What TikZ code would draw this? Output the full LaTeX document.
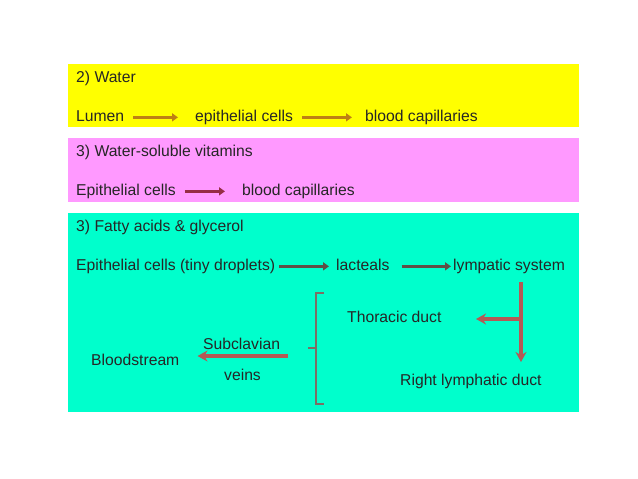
\documentclass[tikz,border=0pt]{standalone}
\usepackage{fontspec}
\setmainfont{Liberation Sans}
\usetikzlibrary{arrows.meta}
\definecolor{wateryellow}{RGB}{255,255,0}
\definecolor{vitpink}{RGB}{255,153,255}
\definecolor{fatcyan}{RGB}{0,255,204}
\definecolor{wateredge}{RGB}{190,128,20}
\definecolor{vitedge}{RGB}{150,45,70}
\definecolor{fatedge}{RGB}{95,80,70}
\definecolor{ductedge}{RGB}{180,90,85}
\definecolor{bracketgray}{RGB}{125,110,100}

\begin{document}
\begin{tikzpicture}[x=1pt, y=-1pt]

\tikzset{ txt/.style={anchor=base west, inner sep=0pt, text=black!85,
    font={\fontsize{15.7pt}{18pt}\selectfont}},
  flow/.style={line width=3.2pt, -{Triangle[length=6pt,width=8pt]}},
  duct/.style={line width=3.1pt, color=ductedge, -{Stealth[length=10pt,width=11pt]}}
}

\useasboundingbox (0,0) rectangle (638,479);

% Boxes
\fill[wateryellow] (68,64) rectangle (579,127);
\fill[vitpink] (68,138) rectangle (579,202);
\fill[fatcyan] (68,213) rectangle (579,412);

% Water
\node[txt] (water) at (76,82) {2) Water};
\node[txt] (lumen) at (76,121) {Lumen};
\node[txt] (epiw) at (195,121) {epithelial cells};
\node[txt] (bloodw) at (365,121) {blood capillaries};
\draw[flow, wateredge] ([xshift=9pt, yshift=1pt]lumen.mid east) -- ([xshift=-17pt, yshift=1pt]epiw.mid west);
\draw[flow, wateredge] ([xshift=9pt, yshift=1pt]epiw.mid east) -- ([xshift=-13pt, yshift=1pt]bloodw.mid west);

% Water-soluble vitamins
\node[txt] (vit) at (76,156) {3) Water-soluble vitamins};
\node[txt] (epiv) at (76,195) {Epithelial cells};
\node[txt] (bloodv) at (242,195) {blood capillaries};
\draw[flow, vitedge] ([xshift=9pt, yshift=1pt]epiv.mid east) -- ([xshift=-17pt, yshift=1pt]bloodv.mid west);

% Fatty acids
\node[txt] (fat) at (76,231) {3) Fatty acids \& glycerol};
\node[txt] (epif) at (76,270) {Epithelial cells (tiny droplets)};
\node[txt] (lacteals) at (336,270) {lacteals};
\node[txt] (lymp) at (453,270) {lympatic system};
\draw[flow, fatedge] ([xshift=4pt, yshift=1pt]epif.mid east) -- ([xshift=-7pt, yshift=1pt]lacteals.mid west);
\draw[flow, fatedge] ([xshift=12pt, yshift=1pt]lacteals.mid east) -- ([xshift=-2pt, yshift=1pt]lymp.mid west);

\node[txt] (thoracic) at (347,322) {Thoracic duct};
\node[txt] (right) at (400,385) {Right lymphatic duct};
\node[txt] (subclavian) at (203,349) {Subclavian};
\node[txt] (veins) at (224,380) {veins};
\node[txt] (blood) at (91,365) {Bloodstream};

% Ducts
\coordinate (split) at (521,319);
\coordinate (lympfoot) at (521,282);
\coordinate (rightend) at (521,362);
\coordinate (thorend) at (476,319);
\draw[duct] (lympfoot) -- (rightend);
\draw[duct] (split) -- (thorend);

% Bracket
\draw[bracketgray, line width=2.4pt] (324,293) -- (316,293) -- (316,404) -- (324,404);
\draw[bracketgray, line width=2.4pt] (308,348) -- (316,348);

\coordinate (veinstart) at (288,356);
\draw[duct] (veinstart) -- ([xshift=18pt]blood.mid east |- veinstart);

\end{tikzpicture}
\end{document}
